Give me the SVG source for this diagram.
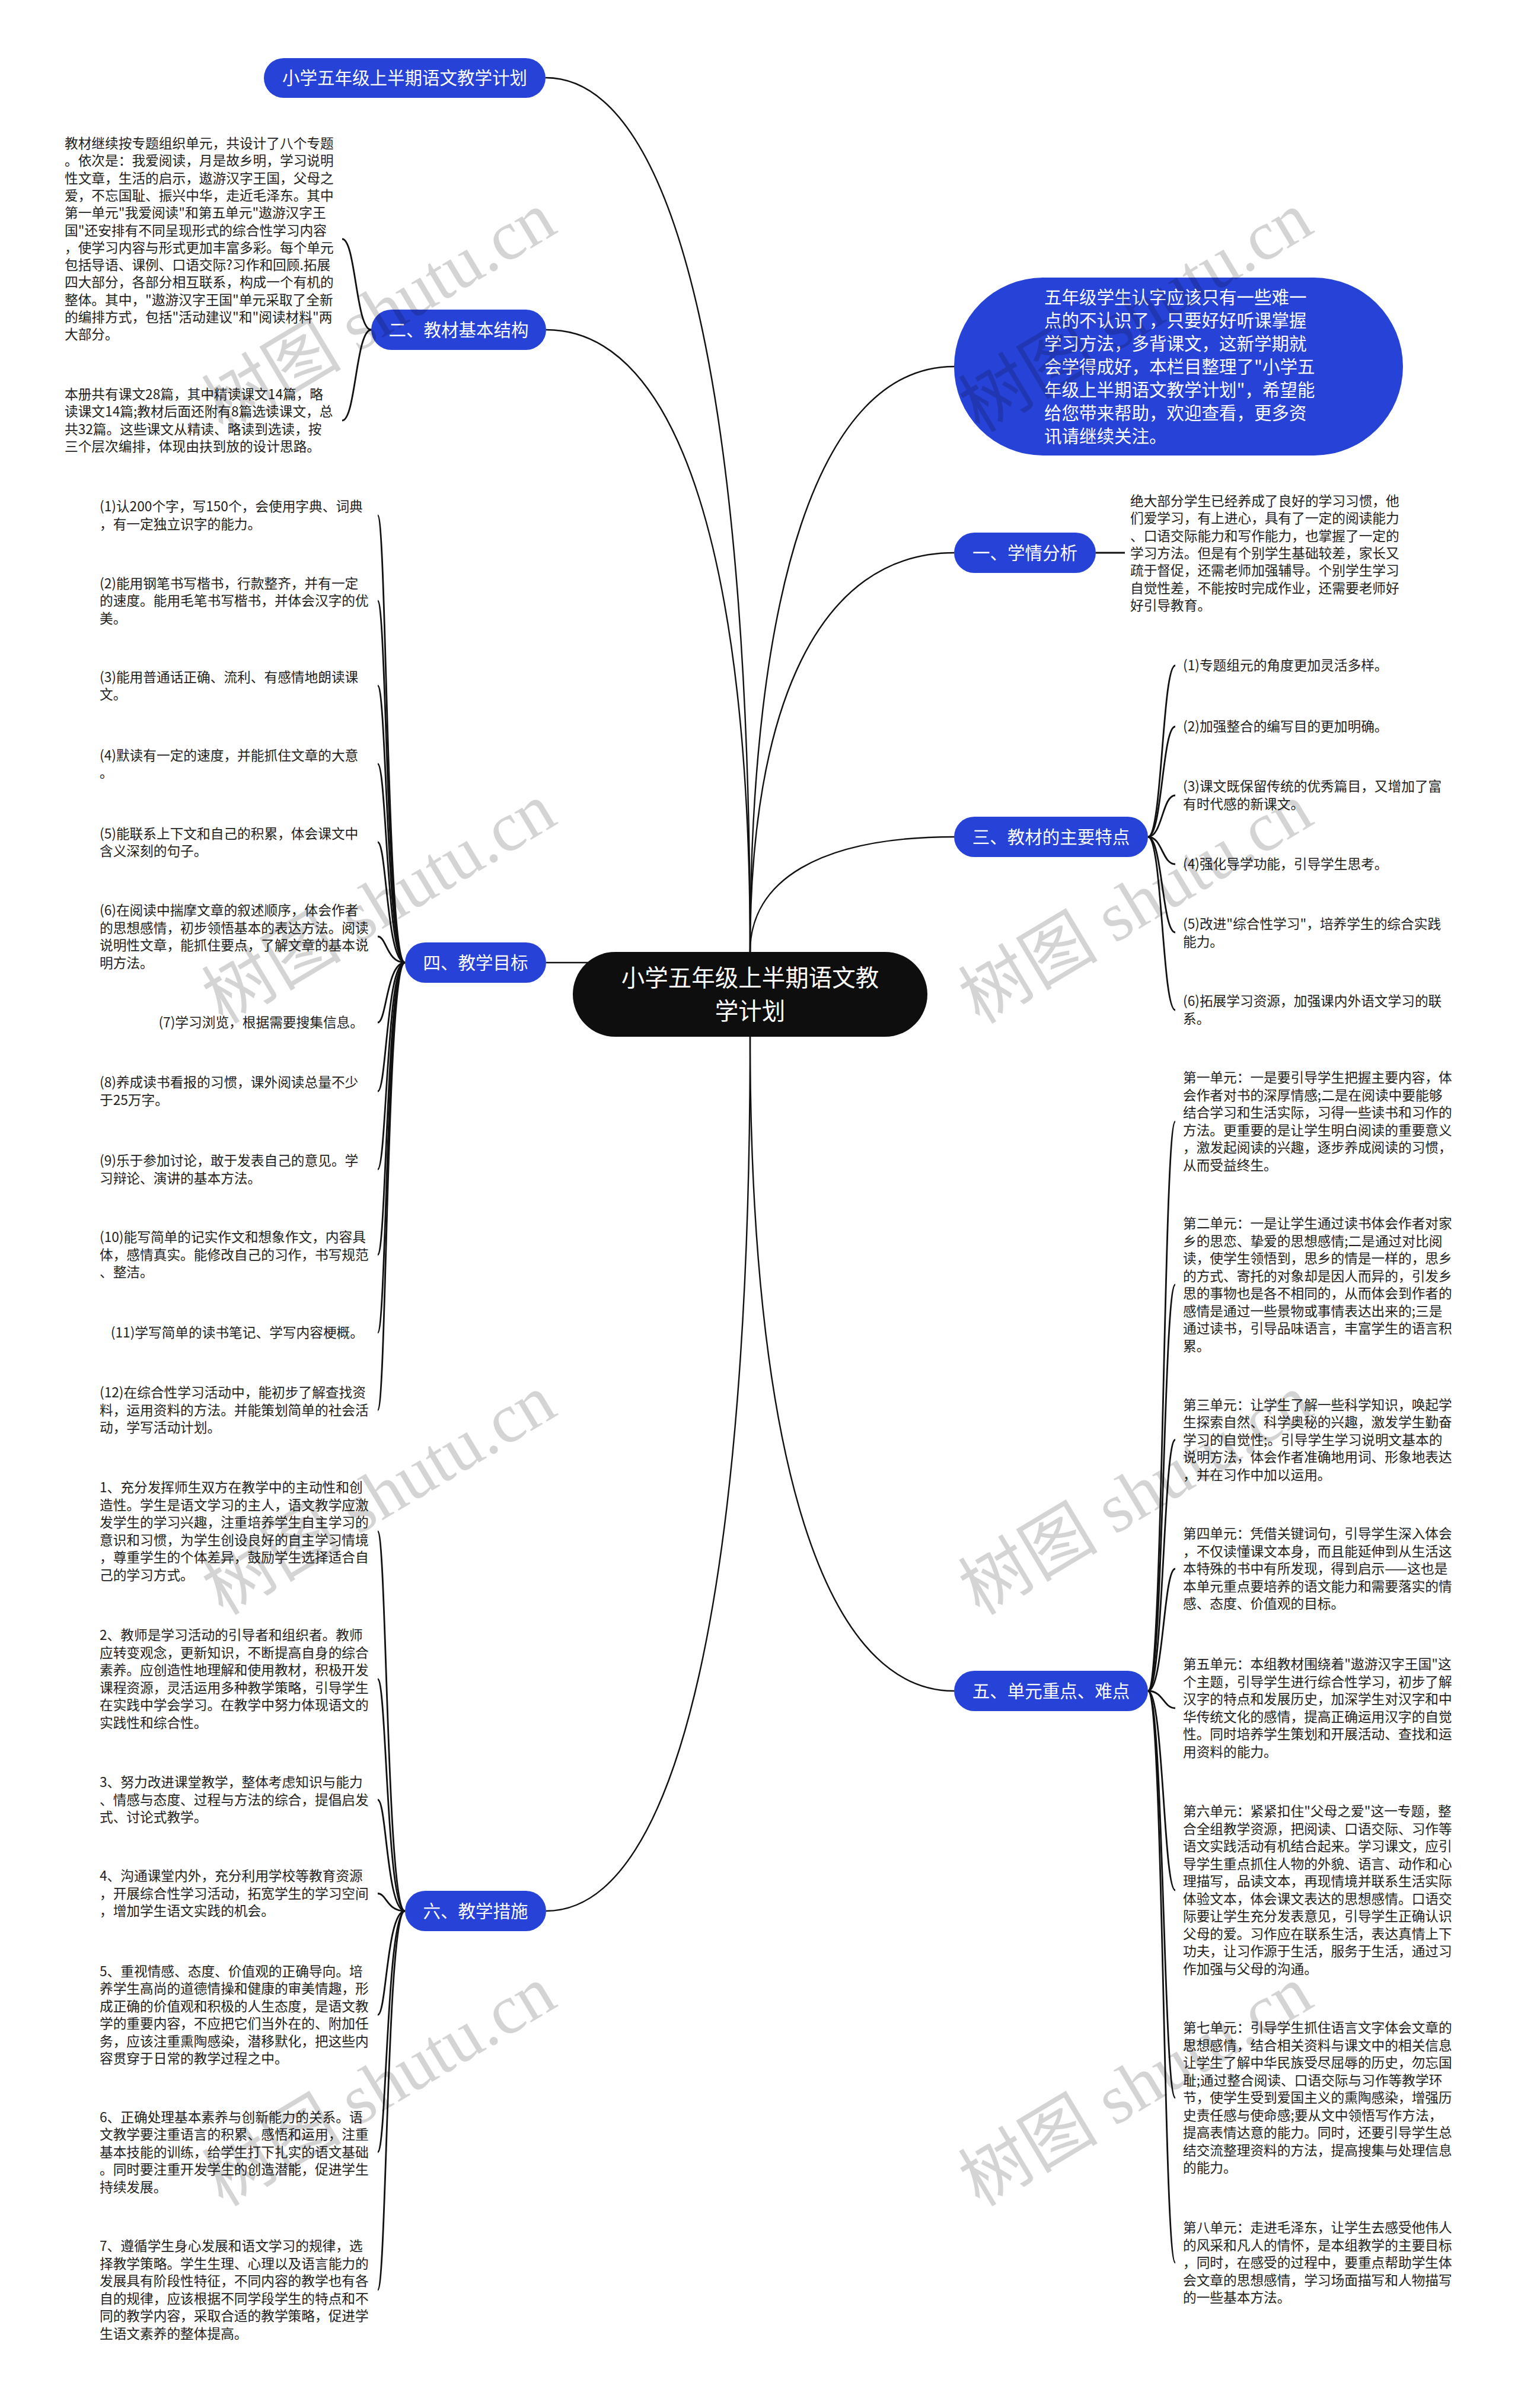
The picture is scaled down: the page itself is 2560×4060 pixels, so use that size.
<svg xmlns="http://www.w3.org/2000/svg" width="2560" height="4060" viewBox="0 0 2560 4060">
<style>
.bg{fill:#ffffff}
.c{fill:none;stroke:#111;stroke-width:2.4}
.b{fill:none;stroke:#111;stroke-width:2.8}
.node{fill:#2742d6}
.root{fill:#0e0e0e}
.n{font-family:"Noto Sans CJK SC",sans-serif;font-size:29.5px;fill:#fff;text-anchor:middle}
.r{font-family:"Noto Sans CJK SC",sans-serif;font-size:39.5px;fill:#fff;text-anchor:middle}
.w{font-family:"Noto Sans CJK SC",sans-serif;font-size:29.5px;fill:#fff}
.t{font-family:"Noto Sans CJK SC",sans-serif;font-size:22.7px;fill:#1e1e1e}
.e{text-anchor:end}
.wm{font-family:"Liberation Serif","Noto Sans CJK SC",serif;font-size:118px;fill:#000;fill-opacity:0.17}
</style>
<rect class="bg" x="0" y="0" width="2560" height="4060"/>
<g id="connectors">
<path class="c" d="M 1265 1605 C 1265 700 1149 131 920 131"/>
<path class="c" d="M 1265 1605 C 1265 961 1150 556 921 556"/>
<path class="c" d="M 1265 1605 C 1265 999 1380 618 1609 618"/>
<path class="c" d="M 1265 1605 C 1265 1192 1380 932 1609 932"/>
<path class="c" d="M 1265 1605 C 1265 1486 1380 1411 1609 1411"/>
<path class="c" d="M 921 1623 L 1100 1623"/>
<path class="c" d="M 1265 1748 C 1265 2425 1380 2851 1609 2851"/>
<path class="c" d="M 1265 1748 C 1265 2653 1150 3222 921 3222"/>
<path class="b" d="M 1848 932 L 1897 932"/>
<path class="b" d="M 626 556 C 600 556 600 403 577 403"/>
<path class="b" d="M 626 556 C 600 556 600 709 577 709"/>
<path class="b" d="M 683 1623 C 652 1623 652 869 637 869"/>
<path class="b" d="M 683 1623 C 652 1623 652 1013 637 1013"/>
<path class="b" d="M 683 1623 C 652 1623 652 1156 637 1156"/>
<path class="b" d="M 683 1623 C 652 1623 652 1288 637 1288"/>
<path class="b" d="M 683 1623 C 652 1623 652 1420 637 1420"/>
<path class="b" d="M 683 1623 C 652 1623 652 1579 637 1579"/>
<path class="b" d="M 683 1623 C 652 1623 652 1724 637 1724"/>
<path class="b" d="M 683 1623 C 652 1623 652 1840 637 1840"/>
<path class="b" d="M 683 1623 C 652 1623 652 1971.5 637 1971.5"/>
<path class="b" d="M 683 1623 C 652 1623 652 2115.5 637 2115.5"/>
<path class="b" d="M 683 1623 C 652 1623 652 2247 637 2247"/>
<path class="b" d="M 683 1623 C 652 1623 652 2377.5 637 2377.5"/>
<path class="b" d="M 683 3222 C 652 3222 652 2582 637 2582"/>
<path class="b" d="M 683 3222 C 652 3222 652 2831 637 2831"/>
<path class="b" d="M 683 3222 C 652 3222 652 3034.5 637 3034.5"/>
<path class="b" d="M 683 3222 C 652 3222 652 3192.5 637 3192.5"/>
<path class="b" d="M 683 3222 C 652 3222 652 3397 637 3397"/>
<path class="b" d="M 683 3222 C 652 3222 652 3628.5 637 3628.5"/>
<path class="b" d="M 683 3222 C 652 3222 652 3861 637 3861"/>
<path class="b" d="M 1936 1411 C 1960 1411 1960 1122 1982 1122"/>
<path class="b" d="M 1936 1411 C 1960 1411 1960 1225 1982 1225"/>
<path class="b" d="M 1936 1411 C 1960 1411 1960 1341 1982 1341"/>
<path class="b" d="M 1936 1411 C 1960 1411 1960 1457 1982 1457"/>
<path class="b" d="M 1936 1411 C 1960 1411 1960 1572 1982 1572"/>
<path class="b" d="M 1936 1411 C 1960 1411 1960 1703 1982 1703"/>
<path class="b" d="M 1936 2851 C 1962 2851 1962 1891 1982 1891"/>
<path class="b" d="M 1936 2851 C 1962 2851 1962 2166 1982 2166"/>
<path class="b" d="M 1936 2851 C 1962 2851 1962 2427.5 1982 2427.5"/>
<path class="b" d="M 1936 2851 C 1962 2851 1962 2645 1982 2645"/>
<path class="b" d="M 1936 2851 C 1962 2851 1962 2880 1982 2880"/>
<path class="b" d="M 1936 2851 C 1962 2851 1962 3187 1982 3187"/>
<path class="b" d="M 1936 2851 C 1962 2851 1962 3537 1982 3537"/>
<path class="b" d="M 1936 2851 C 1962 2851 1962 3815 1982 3815"/>
</g>
<g id="root">
<rect class="root" x="966" y="1605" width="598" height="143" rx="71.5"/>
<text class="r" x="1265" y="1663">小学五年级上半期语文教</text>
<text class="r" x="1265" y="1719">学计划</text>
</g>
<g id="n-title">
<rect class="node" x="445" y="98" width="475" height="67" rx="33.5"/>
<text class="n" x="682.5" y="141.5">小学五年级上半期语文教学计划</text>
</g>
<g id="n-intro">
<rect class="node" x="1609" y="468" width="757" height="300" rx="150"/>
<text class="w" x="1761" y="512">五年级学生认字应该只有一些难一<tspan x="1761" dy="39">点的不认识了，只要好好听课掌握</tspan><tspan x="1761" dy="39">学习方法，多背课文，这新学期就</tspan><tspan x="1761" dy="39">会学得成好，本栏目整理了"小学五</tspan><tspan x="1761" dy="39">年级上半期语文教学计划"，希望能</tspan><tspan x="1761" dy="39">给您带来帮助，欢迎查看，更多资</tspan><tspan x="1761" dy="39">讯请继续关注。</tspan></text>
</g>
<g id="n-2">
<rect class="node" x="626" y="522" width="295" height="68" rx="34"/>
<text class="n" x="773.5" y="566.5">二、教材基本结构</text>
</g>
<g id="n-2-1">
<text class="t" x="109" y="250">教材继续按专题组织单元，共设计了八个专题<tspan x="109" dy="29.3">。依次是：我爱阅读，月是故乡明，学习说明</tspan><tspan x="109" dy="29.3">性文章，生活的启示，遨游汉字王国，父母之</tspan><tspan x="109" dy="29.3">爱，不忘国耻、振兴中华，走近毛泽东。其中</tspan><tspan x="109" dy="29.3">第一单元"我爱阅读"和第五单元"遨游汉字王</tspan><tspan x="109" dy="29.3">国"还安排有不同呈现形式的综合性学习内容</tspan><tspan x="109" dy="29.3">，使学习内容与形式更加丰富多彩。每个单元</tspan><tspan x="109" dy="29.3">包括导语、课例、口语交际?习作和回顾.拓展</tspan><tspan x="109" dy="29.3">四大部分，各部分相互联系，构成一个有机的</tspan><tspan x="109" dy="29.3">整体。其中，"遨游汉字王国"单元采取了全新</tspan><tspan x="109" dy="29.3">的编排方式，包括"活动建议"和"阅读材料"两</tspan><tspan x="109" dy="29.3">大部分。</tspan></text>
</g>
<g id="n-2-2">
<text class="t" x="109" y="673">本册共有课文28篇，其中精读课文14篇，略<tspan x="109" dy="29.3">读课文14篇;教材后面还附有8篇选读课文，总</tspan><tspan x="109" dy="29.3">共32篇。这些课文从精读、略读到选读，按</tspan><tspan x="109" dy="29.3">三个层次编排，体现由扶到放的设计思路。</tspan></text>
</g>
<g id="n-1">
<rect class="node" x="1609" y="898" width="239" height="68" rx="34"/>
<text class="n" x="1728.5" y="942.5">一、学情分析</text>
</g>
<g id="n-1-1">
<text class="t" x="1906" y="853">绝大部分学生已经养成了良好的学习习惯，他<tspan x="1906" dy="29.3">们爱学习，有上进心，具有了一定的阅读能力</tspan><tspan x="1906" dy="29.3">、口语交际能力和写作能力，也掌握了一定的</tspan><tspan x="1906" dy="29.3">学习方法。但是有个别学生基础较差，家长又</tspan><tspan x="1906" dy="29.3">疏于督促，还需老师加强辅导。个别学生学习</tspan><tspan x="1906" dy="29.3">自觉性差，不能按时完成作业，还需要老师好</tspan><tspan x="1906" dy="29.3">好引导教育。</tspan></text>
</g>
<g id="n-3">
<rect class="node" x="1609" y="1377" width="327" height="68" rx="34"/>
<text class="n" x="1772.5" y="1421.5">三、教材的主要特点</text>
</g>
<g id="n-3-items">
<text class="t" x="1995" y="1130">(1)专题组元的角度更加灵活多样。</text>
<text class="t" x="1995" y="1233">(2)加强整合的编写目的更加明确。</text>
<text class="t" x="1995" y="1334">(3)课文既保留传统的优秀篇目，又增加了富<tspan x="1995" dy="29.5">有时代感的新课文。</tspan></text>
<text class="t" x="1995" y="1465">(4)强化导学功能，引导学生思考。</text>
<text class="t" x="1995" y="1566">(5)改进"综合性学习"，培养学生的综合实践<tspan x="1995" dy="29.5">能力。</tspan></text>
<text class="t" x="1995" y="1696">(6)拓展学习资源，加强课内外语文学习的联<tspan x="1995" dy="29.5">系。</tspan></text>
</g>
<g id="n-4">
<rect class="node" x="683" y="1589" width="238" height="68" rx="34"/>
<text class="n" x="802" y="1633.5">四、教学目标</text>
</g>
<g id="n-4-items">
<text class="t" x="168" y="862">(1)认200个字，写150个，会使用字典、词典<tspan x="168" dy="29.5">，有一定独立识字的能力。</tspan></text>
<text class="t" x="168" y="991.6">(2)能用钢笔书写楷书，行款整齐，并有一定<tspan x="168" dy="29.5">的速度。能用毛笔书写楷书，并体会汉字的优</tspan><tspan x="168" dy="29.5">美。</tspan></text>
<text class="t" x="168" y="1149.5">(3)能用普通话正确、流利、有感情地朗读课<tspan x="168" dy="29.5">文。</tspan></text>
<text class="t" x="168" y="1281.5">(4)默读有一定的速度，并能抓住文章的大意<tspan x="168" dy="29.5">。</tspan></text>
<text class="t" x="168" y="1413.6">(5)能联系上下文和自己的积累，体会课文中<tspan x="168" dy="29.5">含义深刻的句子。</tspan></text>
<text class="t" x="168" y="1543">(6)在阅读中揣摩文章的叙述顺序，体会作者<tspan x="168" dy="29.5">的思想感情，初步领悟基本的表达方法。阅读</tspan><tspan x="168" dy="29.5">说明性文章，能抓住要点，了解文章的基本说</tspan><tspan x="168" dy="29.5">明方法。</tspan></text>
<text class="t e" x="613" y="1732">(7)学习浏览，根据需要搜集信息。</text>
<text class="t" x="168" y="1833">(8)养成读书看报的习惯，课外阅读总量不少<tspan x="168" dy="29.5">于25万字。</tspan></text>
<text class="t" x="168" y="1965">(9)乐于参加讨论，敢于发表自己的意见。学<tspan x="168" dy="29.5">习辩论、演讲的基本方法。</tspan></text>
<text class="t" x="168" y="2094">(10)能写简单的记实作文和想象作文，内容具<tspan x="168" dy="29.5">体，感情真实。能修改自己的习作，书写规范</tspan><tspan x="168" dy="29.5">、整洁。</tspan></text>
<text class="t e" x="613" y="2255">(11)学写简单的读书笔记、学写内容梗概。</text>
<text class="t" x="168" y="2356">(12)在综合性学习活动中，能初步了解查找资<tspan x="168" dy="29.5">料，运用资料的方法。并能策划简单的社会活</tspan><tspan x="168" dy="29.5">动，学写活动计划。</tspan></text>
</g>
<g id="n-5">
<rect class="node" x="1609" y="2817" width="327" height="68" rx="34"/>
<text class="n" x="1772.5" y="2861.5">五、单元重点、难点</text>
</g>
<g id="n-5-items">
<text class="t" x="1995" y="1825">第一单元：一是要引导学生把握主要内容，体<tspan x="1995" dy="29.5">会作者对书的深厚情感;二是在阅读中要能够</tspan><tspan x="1995" dy="29.5">结合学习和生活实际，习得一些读书和习作的</tspan><tspan x="1995" dy="29.5">方法。更重要的是让学生明白阅读的重要意义</tspan><tspan x="1995" dy="29.5">，激发起阅读的兴趣，逐步养成阅读的习惯，</tspan><tspan x="1995" dy="29.5">从而受益终生。</tspan></text>
<text class="t" x="1995" y="2071">第二单元：一是让学生通过读书体会作者对家<tspan x="1995" dy="29.5">乡的思恋、挚爱的思想感情;二是通过对比阅</tspan><tspan x="1995" dy="29.5">读，使学生领悟到，思乡的情是一样的，思乡</tspan><tspan x="1995" dy="29.5">的方式、寄托的对象却是因人而异的，引发乡</tspan><tspan x="1995" dy="29.5">思的事物也是各不相同的，从而体会到作者的</tspan><tspan x="1995" dy="29.5">感情是通过一些景物或事情表达出来的;三是</tspan><tspan x="1995" dy="29.5">通过读书，引导品味语言，丰富学生的语言积</tspan><tspan x="1995" dy="29.5">累。</tspan></text>
<text class="t" x="1995" y="2376.5">第三单元：让学生了解一些科学知识，唤起学<tspan x="1995" dy="29.5">生探索自然、科学奥秘的兴趣，激发学生勤奋</tspan><tspan x="1995" dy="29.5">学习的自觉性;。引导学生学习说明文基本的</tspan><tspan x="1995" dy="29.5">说明方法，体会作者准确地用词、形象地表达</tspan><tspan x="1995" dy="29.5">，并在习作中加以运用。</tspan></text>
<text class="t" x="1995" y="2594">第四单元：凭借关键词句，引导学生深入体会<tspan x="1995" dy="29.5">，不仅读懂课文本身，而且能延伸到从生活这</tspan><tspan x="1995" dy="29.5">本特殊的书中有所发现，得到启示——这也是</tspan><tspan x="1995" dy="29.5">本单元重点要培养的语文能力和需要落实的情</tspan><tspan x="1995" dy="29.5">感、态度、价值观的目标。</tspan></text>
<text class="t" x="1995" y="2814">第五单元：本组教材围绕着"遨游汉字王国"这<tspan x="1995" dy="29.5">个主题，引导学生进行综合性学习，初步了解</tspan><tspan x="1995" dy="29.5">汉字的特点和发展历史，加深学生对汉字和中</tspan><tspan x="1995" dy="29.5">华传统文化的感情，提高正确运用汉字的自觉</tspan><tspan x="1995" dy="29.5">性。同时培养学生策划和开展活动、查找和运</tspan><tspan x="1995" dy="29.5">用资料的能力。</tspan></text>
<text class="t" x="1995" y="3062.4">第六单元：紧紧扣住"父母之爱"这一专题，整<tspan x="1995" dy="29.5">合全组教学资源，把阅读、口语交际、习作等</tspan><tspan x="1995" dy="29.5">语文实践活动有机结合起来。学习课文，应引</tspan><tspan x="1995" dy="29.5">导学生重点抓住人物的外貌、语言、动作和心</tspan><tspan x="1995" dy="29.5">理描写，品读文本，再现情境并联系生活实际</tspan><tspan x="1995" dy="29.5">体验文本，体会课文表达的思想感情。口语交</tspan><tspan x="1995" dy="29.5">际要让学生充分发表意见，引导学生正确认识</tspan><tspan x="1995" dy="29.5">父母的爱。习作应在联系生活，表达真情上下</tspan><tspan x="1995" dy="29.5">功夫，让习作源于生活，服务于生活，通过习</tspan><tspan x="1995" dy="29.5">作加强与父母的沟通。</tspan></text>
<text class="t" x="1995" y="3427">第七单元：引导学生抓住语言文字体会文章的<tspan x="1995" dy="29.5">思想感情，结合相关资料与课文中的相关信息</tspan><tspan x="1995" dy="29.5">让学生了解中华民族受尽屈辱的历史，勿忘国</tspan><tspan x="1995" dy="29.5">耻;通过整合阅读、口语交际与习作等教学环</tspan><tspan x="1995" dy="29.5">节，使学生受到爱国主义的熏陶感染，增强历</tspan><tspan x="1995" dy="29.5">史责任感与使命感;要从文中领悟写作方法，</tspan><tspan x="1995" dy="29.5">提高表情达意的能力。同时，还要引导学生总</tspan><tspan x="1995" dy="29.5">结交流整理资料的方法，提高搜集与处理信息</tspan><tspan x="1995" dy="29.5">的能力。</tspan></text>
<text class="t" x="1995" y="3764">第八单元：走进毛泽东，让学生去感受他伟人<tspan x="1995" dy="29.5">的风采和凡人的情怀，是本组教学的主要目标</tspan><tspan x="1995" dy="29.5">，同时，在感受的过程中，要重点帮助学生体</tspan><tspan x="1995" dy="29.5">会文章的思想感情，学习场面描写和人物描写</tspan><tspan x="1995" dy="29.5">的一些基本方法。</tspan></text>
</g>
<g id="n-6">
<rect class="node" x="683" y="3188" width="238" height="68" rx="34"/>
<text class="n" x="802" y="3232.5">六、教学措施</text>
</g>
<g id="n-6-items">
<text class="t" x="168" y="2516">1、充分发挥师生双方在教学中的主动性和创<tspan x="168" dy="29.5">造性。学生是语文学习的主人，语文教学应激</tspan><tspan x="168" dy="29.5">发学生的学习兴趣，注重培养学生自主学习的</tspan><tspan x="168" dy="29.5">意识和习惯，为学生创设良好的自主学习情境</tspan><tspan x="168" dy="29.5">，尊重学生的个体差异，鼓励学生选择适合自</tspan><tspan x="168" dy="29.5">己的学习方式。</tspan></text>
<text class="t" x="168" y="2765">2、教师是学习活动的引导者和组织者。教师<tspan x="168" dy="29.5">应转变观念，更新知识，不断提高自身的综合</tspan><tspan x="168" dy="29.5">素养。应创造性地理解和使用教材，积极开发</tspan><tspan x="168" dy="29.5">课程资源，灵活运用多种教学策略，引导学生</tspan><tspan x="168" dy="29.5">在实践中学会学习。在教学中努力体现语文的</tspan><tspan x="168" dy="29.5">实践性和综合性。</tspan></text>
<text class="t" x="168" y="3013">3、努力改进课堂教学，整体考虑知识与能力<tspan x="168" dy="29.5">、情感与态度、过程与方法的综合，提倡启发</tspan><tspan x="168" dy="29.5">式、讨论式教学。</tspan></text>
<text class="t" x="168" y="3171">4、沟通课堂内外，充分利用学校等教育资源<tspan x="168" dy="29.5">，开展综合性学习活动，拓宽学生的学习空间</tspan><tspan x="168" dy="29.5">，增加学生语文实践的机会。</tspan></text>
<text class="t" x="168" y="3331.6">5、重视情感、态度、价值观的正确导向。培<tspan x="168" dy="29.5">养学生高尚的道德情操和健康的审美情趣，形</tspan><tspan x="168" dy="29.5">成正确的价值观和积极的人生态度，是语文教</tspan><tspan x="168" dy="29.5">学的重要内容，不应把它们当外在的、附加任</tspan><tspan x="168" dy="29.5">务，应该注重熏陶感染，潜移默化，把这些内</tspan><tspan x="168" dy="29.5">容贯穿于日常的教学过程之中。</tspan></text>
<text class="t" x="168" y="3577.5">6、正确处理基本素养与创新能力的关系。语<tspan x="168" dy="29.5">文教学要注重语言的积累、感悟和运用，注重</tspan><tspan x="168" dy="29.5">基本技能的训练，给学生打下扎实的语文基础</tspan><tspan x="168" dy="29.5">。同时要注重开发学生的创造潜能，促进学生</tspan><tspan x="168" dy="29.5">持续发展。</tspan></text>
<text class="t" x="168" y="3795">7、遵循学生身心发展和语文学习的规律，选<tspan x="168" dy="29.5">择教学策略。学生生理、心理以及语言能力的</tspan><tspan x="168" dy="29.5">发展具有阶段性特征，不同内容的教学也有各</tspan><tspan x="168" dy="29.5">自的规律，应该根据不同学段学生的特点和不</tspan><tspan x="168" dy="29.5">同的教学内容，采取合适的教学策略，促进学</tspan><tspan x="168" dy="29.5">生语文素养的整体提高。</tspan></text>
</g>
<g id="watermarks">
<text class="wm" x="376" y="731" transform="rotate(-31 376 731)">树图 shutu.cn</text>
<text class="wm" x="1652" y="731" transform="rotate(-31 1652 731)">树图 shutu.cn</text>
<text class="wm" x="376" y="1728" transform="rotate(-31 376 1728)">树图 shutu.cn</text>
<text class="wm" x="1652" y="1728" transform="rotate(-31 1652 1728)">树图 shutu.cn</text>
<text class="wm" x="376" y="2725" transform="rotate(-31 376 2725)">树图 shutu.cn</text>
<text class="wm" x="1652" y="2725" transform="rotate(-31 1652 2725)">树图 shutu.cn</text>
<text class="wm" x="376" y="3722" transform="rotate(-31 376 3722)">树图 shutu.cn</text>
<text class="wm" x="1652" y="3722" transform="rotate(-31 1652 3722)">树图 shutu.cn</text>
</g>
</svg>
